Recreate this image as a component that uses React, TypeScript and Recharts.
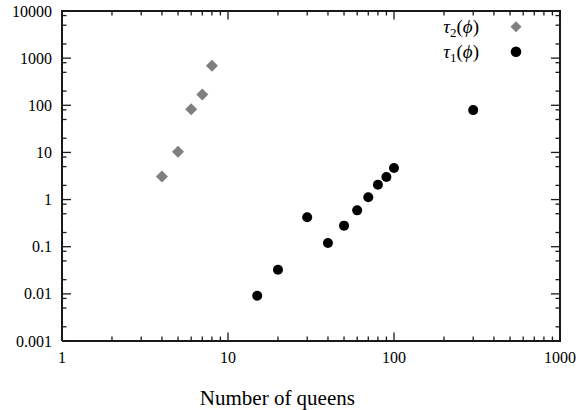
import React from 'react';
import { ScatterChart, Scatter, XAxis, YAxis, Legend, Label } from 'recharts';

// ---- data ----
const tau2Queens = [4, 5, 6, 7, 8];
const tau2Times = [3.1, 10.3, 82, 170, 690];
const tau1Queens = [15, 20, 30, 40, 50, 60, 70, 80, 90, 100, 300];
const tau1Times = [0.0091, 0.0325, 0.42, 0.12, 0.28, 0.59, 1.12, 2.07, 3.0, 4.67, 79];

const seriesNames = ['τ2(ϕ)', 'τ1(ϕ)'];
const seriesColors = ['#7f7f7f', '#000000'];
const seriesShapes = ['diamond', 'circle'];

const xDomain = [1, 1000];
const yDomain = [0.001, 10000];
const xMajorTicks = [1, 10, 100, 1000];
const xTickLabels = ['1', '10', '100', '1000'];
const xMinorTicks = [2, 3, 4, 5, 6, 7, 8, 9, 20, 30, 40, 50, 60, 70, 80, 90, 200, 300, 400, 500, 600, 700, 800, 900];
const yMajorTicks = [0.001, 0.01, 0.1, 1, 10, 100, 1000, 10000];
const yTickLabels = ['0.001', '0.01', '0.1', '1', '10', '100', '1000', '10000'];
const yMinorTicks = [0.002, 0.005, 0.008, 0.02, 0.05, 0.08, 0.2, 0.5, 0.8, 2, 5, 8, 20, 50, 80, 200, 500, 800, 2000, 5000, 8000];
const xTitle = 'Number of queens';

const tau2Data = tau2Queens.map((n, i) => ({ n, t: tau2Times[i] }));
const tau1Data = tau1Queens.map((n, i) => ({ n, t: tau1Times[i] }));
const xAllTicks = [...xMajorTicks, ...xMinorTicks].sort((a, b) => a - b);
const yAllTicks = [...yMajorTicks, ...yMinorTicks].sort((a, b) => a - b);

// frame and tick marks, placed through the chart's own scales
const frameData = [
  { n: xDomain[0], t: yDomain[0] },
  { n: xDomain[1], t: yDomain[0] },
  { n: xDomain[1], t: yDomain[1] },
  { n: xDomain[0], t: yDomain[1] },
  { n: xDomain[0], t: yDomain[0] },
];
const bottomTickData = xAllTicks.map((v) => ({ n: v, t: yDomain[0] }));
const topTickData = xAllTicks.map((v) => ({ n: v, t: yDomain[1] }));
const leftTickData = yAllTicks.map((v) => ({ n: xDomain[0], t: v }));
const rightTickData = yAllTicks.map((v) => ({ n: xDomain[1], t: v }));

const FONT = '"Liberation Serif", "Times New Roman", serif';
const X_MARGIN = 11;
const Y_MARGIN = 10;
const MAJOR_LEN = 8.5;
const MINOR_LEN = 4.5;

const Diamond = (p: any) => {
  const { cx, cy, fill } = p;
  const r = 6;
  return <polygon points={`${cx},${cy - r} ${cx + r},${cy} ${cx},${cy + r} ${cx - r},${cy}`} fill={fill} />;
};
const Dot = (p: any) => <circle cx={p.cx} cy={p.cy} r={5} fill={p.fill} />;
const NoMark = () => <g />;

const isXMajor = (v: number) => xMajorTicks.indexOf(v) >= 0;
const isYMajor = (v: number) => yMajorTicks.indexOf(v) >= 0;
const fmtX = (v: number) => xTickLabels[xMajorTicks.indexOf(v)] ?? '';
const fmtY = (v: number) => yTickLabels[yMajorTicks.indexOf(v)] ?? '';

const hbar = (x1: number, x2: number, y: number, w = 1.3) => (
  <rect x={Math.min(x1, x2)} y={y - w / 2} width={Math.abs(x2 - x1)} height={w} fill="#1a1a1a" stroke="none" />
);
const vbar = (x: number, y1: number, y2: number, w = 1.3) => (
  <rect x={x - w / 2} y={Math.min(y1, y2)} width={w} height={Math.abs(y2 - y1)} fill="#1a1a1a" stroke="none" />
);

const BottomMark = (p: any) => {
  const len = isXMajor(p.payload?.n ?? p.n) ? MAJOR_LEN : MINOR_LEN;
  return vbar(p.cx, p.cy, p.cy - len);
};
const TopMark = (p: any) => {
  const len = isXMajor(p.payload?.n ?? p.n) ? MAJOR_LEN : MINOR_LEN;
  return vbar(p.cx, p.cy, p.cy + len);
};
const LeftMark = (p: any) => {
  const len = isYMajor(p.payload?.t ?? p.t) ? MAJOR_LEN + 0.5 : MINOR_LEN;
  return hbar(p.cx, p.cx + len, p.cy);
};
const RightMark = (p: any) => {
  const len = isYMajor(p.payload?.t ?? p.t) ? MAJOR_LEN + 0.5 : MINOR_LEN;
  return hbar(p.cx, p.cx - len, p.cy);
};

const BottomLabel = (p: any) => {
  const v = p.payload.value;
  return (
    <text x={p.x} y={p.y} dy={11.4} textAnchor="middle" fontFamily={FONT} fontSize={16} fill="#000" stroke="none">
      {fmtX(v)}
    </text>
  );
};
const LeftLabel = (p: any) => {
  const v = p.payload.value;
  return (
    <text x={p.x} y={p.y} dy={5.5} textAnchor="end" fontFamily={FONT} fontSize={16} fill="#000" stroke="none">
      {fmtY(v)}
    </text>
  );
};

const XTitle = (props: any) => {
  const vb = props.viewBox || { x: 62, y: 341, width: 498 };
  return (
    <text x={vb.x + vb.width * 0.4325} y={vb.y + 64} textAnchor="middle" fontFamily={FONT} fontSize={21} fill="#000">
      {xTitle}
    </text>
  );
};

const LegendContent = (props: any) => {
  const payload: any[] = props.payload || [];
  const rows = seriesNames
    .map((name, i) => ({ name, entry: payload.find((p) => p.value === name), shape: seriesShapes[i], color: seriesColors[i] }))
    .filter((r) => r.entry);
  return (
    <svg width={110} height={62} style={{ display: 'block', overflow: 'visible' }}>
      {rows.map((r, i) => {
        const base = 23.4 + 25 * i;
        const my = 16.7 + 25 * i;
        const mx = 86;
        const color = r.entry.color || r.color;
        return (
          <g key={r.name}>
            <text x={49} y={base} textAnchor="end" fontFamily={FONT} fontSize={19} fill="#000">
              <tspan fontStyle="italic">{r.name[0]}</tspan>
              <tspan fontSize={13} dy={4}>{r.name[1]}</tspan>
              <tspan dy={-4}>(</tspan>
              <tspan fontStyle="italic">{r.name[3]}</tspan>
              <tspan>)</tspan>
            </text>
            {r.shape === 'diamond' ? (
              <polygon points={`${mx},${my - 5.5} ${mx + 5.5},${my} ${mx},${my + 5.5} ${mx - 5.5},${my}`} fill={color} />
            ) : (
              <circle cx={mx} cy={my} r={5.3} fill={color} />
            )}
          </g>
        );
      })}
    </svg>
  );
};

export default function App() {
  return (
    <div style={{ position: 'absolute', left: 0, top: 0, width: 582, height: 410, background: '#fff', fontFamily: FONT }}>
      <ScatterChart width={582} height={410} margin={{ top: 11, right: 22, bottom: 0, left: 0 }}>
        <XAxis
          xAxisId="x"
          type="number"
          dataKey="n"
          scale="log"
          domain={xDomain}
          ticks={xMajorTicks}
          interval={0}
          tickFormatter={fmtX}
          tickLine={false}
          tickSize={0}
          tickMargin={X_MARGIN}
          height={69}
          axisLine={false}
          tick={BottomLabel}
        >
          <Label content={XTitle} />
        </XAxis>
        <YAxis
          yAxisId="y"
          type="number"
          dataKey="t"
          scale="log"
          domain={yDomain}
          ticks={yMajorTicks}
          interval={0}
          tickFormatter={fmtY}
          tickLine={false}
          tickSize={0}
          tickMargin={Y_MARGIN}
          width={62}
          axisLine={false}
          tick={LeftLabel}
        />

        <Scatter data={frameData} xAxisId="x" yAxisId="y" shape={NoMark} line={{ stroke: '#1a1a1a', strokeWidth: 2 }} lineJointType="linear" legendType="none" isAnimationActive={false} />
        <Scatter data={bottomTickData} xAxisId="x" yAxisId="y" shape={BottomMark} legendType="none" isAnimationActive={false} />
        <Scatter data={topTickData} xAxisId="x" yAxisId="y" shape={TopMark} legendType="none" isAnimationActive={false} />
        <Scatter data={leftTickData} xAxisId="x" yAxisId="y" shape={LeftMark} legendType="none" isAnimationActive={false} />
        <Scatter data={rightTickData} xAxisId="x" yAxisId="y" shape={RightMark} legendType="none" isAnimationActive={false} />

        <Scatter name={seriesNames[0]} data={tau2Data} xAxisId="x" yAxisId="y" fill={seriesColors[0]} shape={Diamond} isAnimationActive={false} />
        <Scatter name={seriesNames[1]} data={tau1Data} xAxisId="x" yAxisId="y" fill={seriesColors[1]} shape={Dot} isAnimationActive={false} />

        <Legend
          layout="horizontal"
          verticalAlign="middle"
          align="center"
          wrapperStyle={{ position: 'absolute', left: 430, top: 10, width: 110, height: 62 }}
          content={LegendContent}
        />
      </ScatterChart>
    </div>
  );
}
